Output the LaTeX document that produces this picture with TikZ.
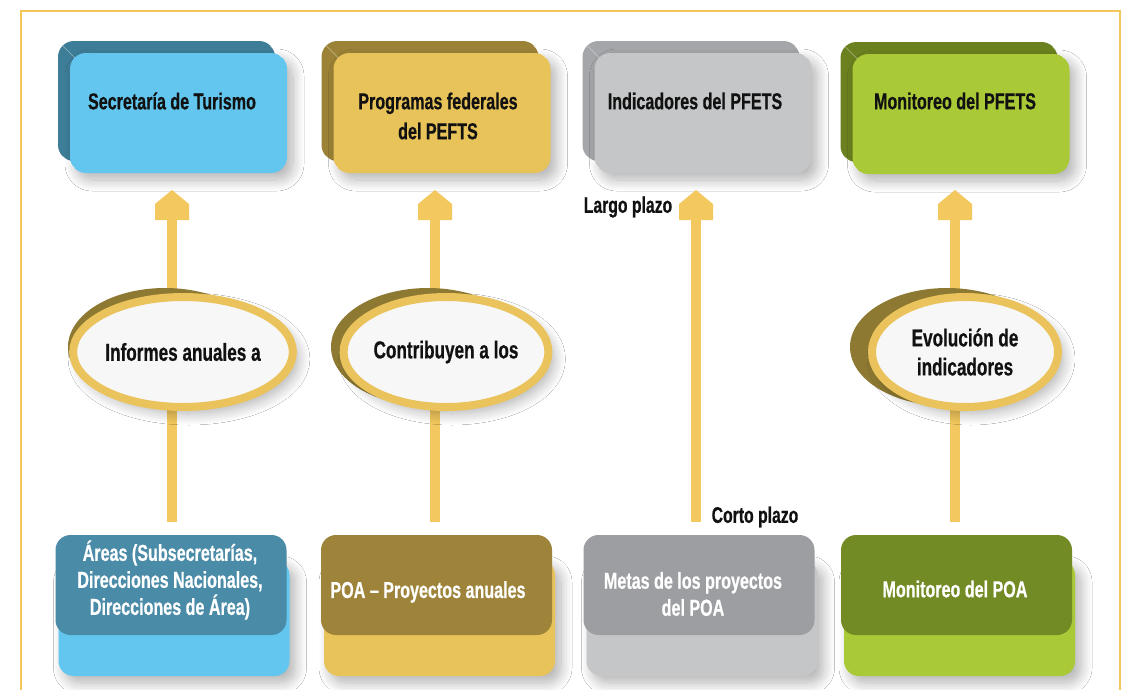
\documentclass[tikz,border=0pt]{standalone}
\usepackage{fontspec}
\setmainfont{Liberation Sans}[FakeStretch=0.7,BoldFeatures={FakeBold=0.6}]
\usetikzlibrary{shadows.blur,calc,shapes.geometric}
\definecolor{framec}{HTML}{F2C75C}
\definecolor{arrowc}{HTML}{F3C85E}
\definecolor{blueF}{HTML}{63C6EE}
\definecolor{blueD}{HTML}{3E7D97}
\definecolor{blueT}{HTML}{4A8BA7}
\definecolor{goldF}{HTML}{E8C35A}
\definecolor{goldD}{HTML}{9C8237}
\definecolor{goldT}{HTML}{9E843B}
\definecolor{grayF}{HTML}{C5C6C8}
\definecolor{grayD}{HTML}{A5A6A9}
\definecolor{grayT}{HTML}{9D9EA2}
\definecolor{greenF}{HTML}{AAC937}
\definecolor{greenD}{HTML}{6B811F}
\definecolor{greenT}{HTML}{738B24}
\definecolor{ringc}{HTML}{EAC35C}
\definecolor{oliveE}{HTML}{8E7933}
\definecolor{ellW}{HTML}{F7F7F7}
\definecolor{txt}{HTML}{111111}
\begin{document}
\begin{tikzpicture}[x=1pt,y=-1pt,
  sh/.style={blur shadow={shadow xshift=6pt,shadow yshift=-7pt,shadow blur radius=11pt,shadow blur steps=12,shadow opacity=30}},
  topbox/.style={rectangle,rounded corners=16pt,minimum width=217pt,minimum height=120pt,inner sep=0pt},
  botbox/.style={rectangle,rounded corners=15pt,minimum width=231pt,minimum height=100pt,inner sep=0pt},
  slab/.style={rectangle,rounded corners=15pt,minimum width=231pt,minimum height=116pt,inner sep=0pt},
  bevel/.style={white,opacity=0.45,line width=0.6pt},
  ttext/.style={font=\bfseries\fontsize{23}{30}\selectfont,align=center,text=txt,inner sep=0pt},
  btext/.style={font=\bfseries\fontsize{23}{27}\selectfont,align=center,text=white,inner sep=0pt},
  ltext/.style={font=\bfseries\fontsize{22.5}{25}\selectfont,text=txt,inner sep=0pt},
  shaft/.style={draw=arrowc,line width=10pt,shorten >=26pt},
  head/.style={fill=arrowc},
  ring/.style={ellipse,draw=ringc,line width=8pt,fill=ellW,minimum width=186pt,minimum height=110pt,inner sep=0pt,
     font=\bfseries\fontsize{24.5}{29}\selectfont,align=center,text=txt},
  back/.style={ellipse,minimum width=194pt,minimum height=118pt,inner sep=0pt,fill=oliveE}
]
\useasboundingbox (0,0) rectangle (1123,689);
\fill[white] (0,0) rectangle (1123,689);
\draw[framec,line width=2.5pt] (21,700) -- (21,11) -- (1120,11) -- (1120,700);

% ---------- top boxes ----------
\foreach \n/\cx/\cy/\cf/\cd in {1/178.5/113/blueF/blueD, 2/442/113/goldF/goldD, 3/703/113/grayF/grayD, 4/961/114/greenF/greenD}{
  \node[topbox,fill=\cd] (tb\n) at (\cx-12,\cy-12) {};
  \node[topbox,fill=\cf,sh] (t\n) at (\cx,\cy) {};
  \draw[bevel] ($(tb\n.north west)+(5,5)$) -- ($(t\n.north west)+(5,5)$);
  \draw[bevel] ($(tb\n.north east)+(-5,5)$) -- ($(t\n.north east)+(-5,5)$);
  \draw[bevel] ($(tb\n.south west)+(5,-5)$) -- ($(t\n.south west)+(5,-5)$);
}

% ---------- bottom boxes ----------
\foreach \n/\cx/\cf/\ct in {1/171/blueF/blueT, 2/436.5/goldF/goldT, 3/699/grayF/grayT, 4/956.5/greenF/greenT}{
  \node[slab,fill=\cf,sh] (bs\n) at (\cx+3,618) {};
  \node[botbox,fill=\ct] (b\n) at (\cx,585) {};
}

% ---------- arrows ----------
\foreach \n/\ax in {1/172, 2/435, 3/696, 4/955}{
  \coordinate (s\n) at (\ax,522);
  \coordinate (h\n) at (\ax,190);
  \draw[shaft] (s\n) -- (h\n);
  \fill[head] (h\n) -- ++(17,14) -- ++(0,16) -- ++(-34,0) -- ++(0,-16) -- cycle;
}

% ---------- ellipses ----------
\node[back] (eb1) at (165,347) {};
\node[ring,sh] (e1) at (183,352) {Informes anuales a};
\node[back] (eb2) at (428,347) {};
\node[ring,sh] (e2) at (446,352) {Contribuyen a los};
\node[back] (eb4) at (947,347) {};
\node[ring,sh] (e4) at (965,352) {Evolución de\\indicadores};

% ---------- texts ----------
\node[ttext,anchor=center] at (172,101) {Secretaría de Turismo};
\node[ttext,anchor=center] at (438,116) {Programas federales\\del PEFTS};
\node[ttext,anchor=center] at (695,101) {Indicadores del PFETS};
\node[ttext,anchor=center] at (955,101) {Monitoreo del PFETS};

\node[btext] at (170,580) {Áreas (Subsecretarías,\\Direcciones Nacionales,\\Direcciones de Área)};
\node[btext] at (428,592) {POA – Proyectos anuales};
\node[btext] at (693,594) {Metas de los proyectos\\del POA};
\node[btext] at (955,589) {Monitoreo del POA};

\node[ltext] at (628,207) {Largo plazo};
\node[ltext] at (755,517) {Corto plazo};
\end{tikzpicture}
\end{document}
